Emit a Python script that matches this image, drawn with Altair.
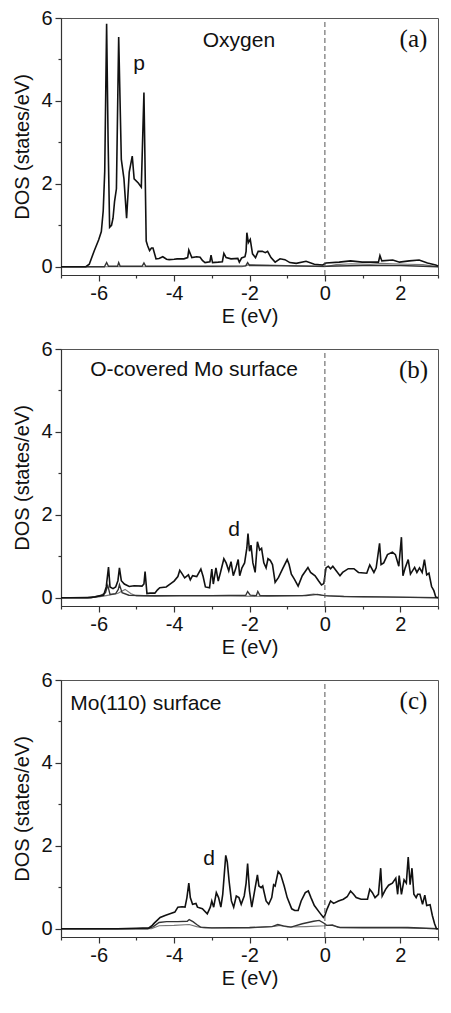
import altair as alt
import pandas as pd

# ---------------- data (E in eV, DOS in states/eV) ----------------
a_total = [(-7.0, 0), (-6.34, 0), (-6.25, 0.06), (-6.12, 0.38), (-6.0, 0.65), (-5.93, 0.85), (-5.88, 1.35),
           (-5.84, 2.3), (-5.79, 5.86), (-5.75, 3.0), (-5.71, 0.95), (-5.66, 1.0), (-5.62, 1.17), (-5.58, 1.57),
           (-5.53, 1.88), (-5.47, 5.54), (-5.40, 2.59), (-5.33, 2.12), (-5.26, 1.17), (-5.19, 2.28), (-5.11, 2.67),
           (-5.06, 2.12), (-4.95, 2.02), (-4.87, 1.92), (-4.80, 4.20), (-4.74, 0.62), (-4.70, 0.50), (-4.65, 0.39),
           (-4.60, 0.45), (-4.56, 0.45), (-4.48, 0.19), (-4.40, 0.20), (-4.30, 0.24), (-4.20, 0.18), (-4.13, 0.17),
           (-4.0, 0.18), (-3.92, 0.19), (-3.74, 0.19), (-3.64, 0.22), (-3.61, 0.40), (-3.53, 0.22), (-3.40, 0.24),
           (-3.31, 0.23), (-3.25, 0.15), (-3.18, 0.10), (-3.05, 0.12), (-3.02, 0.28), (-2.98, 0.10), (-2.83, 0.11),
           (-2.72, 0.12), (-2.68, 0.32), (-2.62, 0.22), (-2.49, 0.19), (-2.31, 0.20), (-2.27, 0.11), (-2.21, 0.21),
           (-2.12, 0.24), (-2.09, 0.37), (-2.07, 0.82), (-2.03, 0.58), (-1.98, 0.66), (-1.92, 0.31), (-1.84, 0.22),
           (-1.77, 0.37), (-1.66, 0.37), (-1.58, 0.34), (-1.52, 0.37), (-1.43, 0.22), (-1.32, 0.11), (-1.19, 0.19),
           (-1.06, 0.17), (-0.93, 0.10), (-0.76, 0.08), (-0.5, 0.13), (-0.28, 0.06), (-0.06, 0.04), (0.03, 0.09),
           (0.38, 0.11), (0.68, 0.14), (0.99, 0.11), (1.42, 0.11), (1.46, 0.27), (1.51, 0.14), (1.80, 0.16),
           (1.98, 0.11), (2.24, 0.14), (2.50, 0.16), (2.72, 0.09), (2.94, 0.04), (3.0, 0.02)]
a_s1 = [(-7, 0), (-5.85, 0), (-5.79, 0.1), (-5.74, 0.01), (-5.50, 0.01), (-5.47, 0.1), (-5.43, 0.01), (-4.85, 0.01),
        (-4.80, 0.09), (-4.75, 0.01), (-3.0, 0.01), (-2.1, 0.02), (-2.05, 0.1), (-2.0, 0.03), (-1.0, 0.02),
        (0, 0.01), (1.0, 0.03), (2.0, 0.03), (3.0, 0.0)]
a_s2 = [(-7, 0), (-2.2, 0.0), (-2.0, 0.05), (-1.5, 0.04), (-0.8, 0.02), (0, 0.0), (0.3, 0.05), (0.7, 0.07),
        (1.2, 0.06), (1.5, 0.08), (1.8, 0.07), (2.2, 0.06), (2.6, 0.05), (3, 0.0)]

b_total = [(-7, 0), (-6.3, 0), (-6.1, 0.02), (-5.95, 0.05), (-5.87, 0.06), (-5.80, 0.26), (-5.74, 0.74),
           (-5.70, 0.26), (-5.62, 0.22), (-5.55, 0.26), (-5.49, 0.41), (-5.45, 0.72), (-5.40, 0.41), (-5.32, 0.33),
           (-5.19, 0.27), (-5.06, 0.29), (-4.85, 0.28), (-4.80, 0.33), (-4.77, 0.63), (-4.72, 0.10), (-4.64, 0.11),
           (-4.51, 0.11), (-4.44, 0.19), (-4.38, 0.24), (-4.21, 0.26), (-4.09, 0.34), (-4.0, 0.40), (-3.90, 0.51),
           (-3.85, 0.66), (-3.79, 0.58), (-3.72, 0.48), (-3.62, 0.55), (-3.57, 0.43), (-3.51, 0.53), (-3.40, 0.51),
           (-3.29, 0.69), (-3.23, 0.51), (-3.17, 0.26), (-3.06, 0.24), (-3.0, 0.69), (-2.96, 0.33), (-2.89, 0.72),
           (-2.83, 0.40), (-2.77, 0.61), (-2.68, 0.94), (-2.62, 0.84), (-2.55, 0.65), (-2.49, 0.87), (-2.43, 0.53),
           (-2.37, 0.69), (-2.30, 0.92), (-2.26, 0.53), (-2.20, 0.72), (-2.13, 0.84), (-2.07, 1.2), (-2.04, 1.55),
           (-2.0, 1.12), (-1.96, 1.27), (-1.91, 0.84), (-1.85, 0.61), (-1.79, 1.35), (-1.73, 1.15), (-1.68, 1.19),
           (-1.62, 0.84), (-1.56, 0.72), (-1.51, 0.94), (-1.45, 0.90), (-1.39, 0.80), (-1.32, 0.37), (-1.23, 0.49),
           (-1.11, 0.72), (-1.0, 0.92), (-0.95, 0.80), (-0.89, 0.57), (-0.81, 0.45), (-0.71, 0.28), (-0.60, 0.53),
           (-0.45, 0.73), (-0.38, 0.61), (-0.26, 0.53), (-0.17, 0.41), (-0.09, 0.31), (-0.03, 0.34), (0.03, 0.72),
           (0.09, 0.76), (0.15, 0.70), (0.21, 0.76), (0.30, 0.65), (0.40, 0.53), (0.47, 0.61), (0.62, 0.70),
           (0.77, 0.70), (0.89, 0.61), (1.11, 0.59), (1.19, 0.79), (1.30, 0.61), (1.36, 0.72), (1.45, 1.31),
           (1.49, 0.80), (1.56, 0.84), (1.66, 1.04), (1.79, 1.10), (1.87, 1.04), (1.96, 0.76), (2.03, 1.46),
           (2.07, 0.53), (2.13, 0.72), (2.21, 0.92), (2.27, 0.57), (2.38, 0.73), (2.44, 0.61), (2.51, 0.72),
           (2.58, 0.61), (2.64, 0.92), (2.70, 0.55), (2.76, 0.59), (2.83, 0.27), (2.89, 0.17), (2.94, 0.02),
           (3.0, 0.0)]
b_s1 = [(-7, 0), (-6.2, 0.0), (-5.95, 0.05), (-5.82, 0.12), (-5.76, 0.3), (-5.70, 0.08), (-5.55, 0.1),
        (-5.48, 0.2), (-5.45, 0.32), (-5.38, 0.12), (-5.2, 0.06), (-4.8, 0.05), (-4.0, 0.05), (-3.0, 0.05),
        (-2.1, 0.06), (-2.05, 0.15), (-1.98, 0.06), (-1.82, 0.05), (-1.78, 0.15), (-1.72, 0.05), (-1.0, 0.05),
        (-0.5, 0.05), (-0.2, 0.08), (0.0, 0.05), (0.5, 0.03), (1.5, 0.02), (3, 0.0)]
b_s2 = [(-7, 0), (-6.0, 0.02), (-5.8, 0.05), (-5.5, 0.1), (-5.3, 0.2), (-5.15, 0.1), (-5.0, 0.04), (-4.5, 0.03),
        (-3.5, 0.05), (-2.5, 0.04), (-1.5, 0.03), (-0.6, 0.05), (-0.3, 0.09), (-0.1, 0.06), (0.1, 0.04),
        (1.0, 0.02), (2.0, 0.01), (3.0, 0.0)]

c_total = [(-7, 0), (-5.5, 0.0), (-5.0, 0.01), (-4.67, 0.02), (-4.58, 0.08), (-4.52, 0.14), (-4.45, 0.20),
           (-4.37, 0.27), (-4.24, 0.32), (-4.11, 0.36), (-3.98, 0.40), (-3.90, 0.52), (-3.79, 0.53), (-3.71, 0.52),
           (-3.66, 0.75), (-3.61, 1.10), (-3.57, 0.75), (-3.51, 0.59), (-3.42, 0.61), (-3.38, 0.52), (-3.25, 0.48),
           (-3.12, 0.36), (-3.04, 0.52), (-3.0, 0.67), (-2.95, 0.52), (-2.88, 0.87), (-2.82, 0.75), (-2.76, 0.52),
           (-2.71, 0.83), (-2.67, 1.30), (-2.63, 1.77), (-2.59, 1.61), (-2.54, 1.14), (-2.48, 0.67), (-2.42, 0.52),
           (-2.35, 0.79), (-2.28, 0.75), (-2.22, 0.59), (-2.14, 0.79), (-2.09, 1.10), (-2.05, 1.57), (-2.0, 0.91),
           (-1.94, 0.52), (-1.88, 0.83), (-1.79, 1.30), (-1.75, 1.03), (-1.69, 0.99), (-1.65, 1.03), (-1.56, 0.67),
           (-1.49, 0.59), (-1.41, 0.75), (-1.36, 1.06), (-1.32, 1.03), (-1.24, 1.38), (-1.17, 1.30), (-1.08, 1.03),
           (-1.0, 0.75), (-0.88, 0.48), (-0.80, 0.44), (-0.71, 0.44), (-0.63, 0.67), (-0.52, 0.87), (-0.44, 0.91),
           (-0.37, 0.75), (-0.28, 0.56), (-0.15, 0.40), (-0.04, 0.27), (0.0, 0.32), (0.06, 0.48), (0.15, 0.67),
           (0.23, 0.61), (0.36, 0.67), (0.49, 0.71), (0.59, 0.77), (0.68, 0.91), (0.76, 0.83), (0.83, 0.75),
           (0.96, 0.71), (1.13, 0.71), (1.19, 0.95), (1.26, 0.87), (1.33, 0.75), (1.42, 0.83), (1.48, 1.46),
           (1.52, 0.79), (1.61, 0.95), (1.69, 1.05), (1.79, 1.10), (1.88, 1.22), (1.93, 0.83), (1.97, 1.28),
           (2.03, 0.83), (2.10, 1.18), (2.16, 1.10), (2.21, 1.73), (2.26, 1.06), (2.31, 1.46), (2.36, 0.83),
           (2.42, 0.75), (2.46, 0.83), (2.52, 0.83), (2.59, 0.59), (2.65, 0.81), (2.70, 0.56), (2.79, 0.58),
           (2.85, 0.32), (2.91, 0.12), (2.96, 0.0), (3.0, 0.0)]
c_s1 = [(-7, 0), (-4.7, 0.0), (-4.55, 0.05), (-4.4, 0.15), (-4.2, 0.17), (-3.9, 0.17), (-3.65, 0.18), (-3.6, 0.22),
        (-3.5, 0.17), (-3.4, 0.10), (-3.3, 0.04), (-3.0, 0.02), (-2.0, 0.03), (-1.4, 0.05), (-1.25, 0.10),
        (-1.1, 0.07), (-0.9, 0.04), (-0.6, 0.12), (-0.3, 0.18), (-0.15, 0.20), (0.0, 0.12), (0.05, 0.08),
        (0.2, 0.08), (0.4, 0.03), (1.0, 0.03), (2.2, 0.03), (3, 0.0)]
c_s2 = [(-7, 0), (-4.6, 0.0), (-4.4, 0.07), (-4.0, 0.08), (-3.6, 0.1), (-3.4, 0.05), (-3.2, 0.02), (-2, 0.02),
        (-1.3, 0.06), (-1.2, 0.08), (-1.0, 0.04), (-0.5, 0.05), (0.0, 0.07), (0.2, 0.10), (0.35, 0.03),
        (1.0, 0.02), (2.0, 0.02), (3, 0.0)]

# annotations: (E, DOS, text)
a_labels = [(-2.28, 5.30, "Oxygen"), (-4.93, 4.75, "p")]
b_labels = [(-3.47, 5.36, "O-covered Mo surface"), (-2.41, 1.48, "d")]
c_labels = [(-4.75, 5.28, "Mo(110) surface"), (-3.07, 1.53, "d")]
panel_tags = ["(a)", "(b)", "(c)"]
tag_pos = (2.35, 5.30)
fermi = [0]

x_ticks = list(range(-7, 4))
y_ticks = list(range(0, 7))

SANS = "Liberation Sans"
SERIF = "Liberation Serif"


def line_df(series):
    rows = []
    for name, pts in series:
        for i, (e, d) in enumerate(pts):
            rows.append({"series": name, "E": e, "DOS": d, "i": i})
    return pd.DataFrame(rows)


xscale = alt.Scale(domain=[-7, 3], nice=False, zero=False)
yscale = alt.Scale(domain=[-0.2, 6], nice=False, zero=False)

cond_tick = {"condition": {"test": "datum.value % 2 == 0", "value": 6}, "value": 3}
x_axis = alt.Axis(values=x_ticks, title="E (eV)", grid=False, labelOverlap=False, labelFlush=False,
                  labelExpr="datum.value % 2 == 0 ? replace(datum.label, '\u2212', '-') : ''",
                  tickSize=cond_tick, labelPadding=2, titlePadding=3, orient="bottom")
y_axis = alt.Axis(values=y_ticks, title="DOS (states/eV)", grid=False, labelOverlap=False, labelFlush=False,
                  labelExpr="datum.value % 2 == 0 ? datum.label : ''",
                  tickSize=cond_tick, labelPadding=3, titlePadding=8, orient="left")


def X(field):
    return alt.X(field, type="quantitative", scale=xscale, axis=x_axis)


def Y(field):
    return alt.Y(field, type="quantitative", scale=yscale, axis=y_axis)


def panel(series, labels, tag):
    df = line_df(series)
    lines = alt.Chart(df).mark_line(interpolate="linear").encode(
        x=X("E"), y=Y("DOS"),
        detail="series:N",
        order="i:Q",
        color=alt.Color("series:N", legend=None,
                        scale=alt.Scale(domain=["total", "s1", "s2"], range=["#111111", "#333333", "#777777"])),
        strokeWidth=alt.StrokeWidth("series:N", legend=None,
                                    scale=alt.Scale(domain=["total", "s1", "s2"], range=[1.6, 1.1, 1.0])),
    )
    rule = alt.Chart(pd.DataFrame({"E": fermi, "DOS": [-0.2], "hi": [6]})).mark_rule(
        color="#555555", strokeDash=[5, 3], strokeWidth=1
    ).encode(x=X("E"), y=Y("DOS"), y2="hi:Q")
    ldf = pd.DataFrame([{"E": e, "DOS": d, "text": t} for e, d, t in labels])
    texts = alt.Chart(ldf).mark_text(font=SANS, fontSize=21, align="center", baseline="alphabetic",
                                     color="#111111").encode(x=X("E"), y=Y("DOS"), text="text:N")
    tdf = pd.DataFrame([{"E": tag_pos[0], "DOS": tag_pos[1], "text": tag}])
    tagtext = alt.Chart(tdf).mark_text(font=SERIF, fontSize=25, align="center", baseline="alphabetic",
                                       color="#111111").encode(x=X("E"), y=Y("DOS"), text="text:N")
    return alt.layer(lines, rule, texts, tagtext).properties(width=377, height=257)


pa = panel([("s2", a_s2), ("s1", a_s1), ("total", a_total)], a_labels, panel_tags[0])
pb = panel([("s2", b_s2), ("s1", b_s1), ("total", b_total)], b_labels, panel_tags[1])
pc = panel([("s2", c_s2), ("s1", c_s1), ("total", c_total)], c_labels, panel_tags[2])

chart = alt.vconcat(pa, pb, pc, spacing=11).properties(
    padding={"left": 4, "top": -1, "right": 0, "bottom": 0}
).configure_view(stroke="#555555", strokeWidth=1).configure_axis(
    labelFont=SANS, titleFont=SANS, labelFontSize=20, titleFontSize=20, titleFontWeight="normal",
    labelColor="#111111", titleColor="#111111", domainColor="#333333", tickColor="#333333",
    domainWidth=1.2, tickWidth=1.2
)

chart.save("out.html", embed_options={"renderer": "svg", "actions": False})
